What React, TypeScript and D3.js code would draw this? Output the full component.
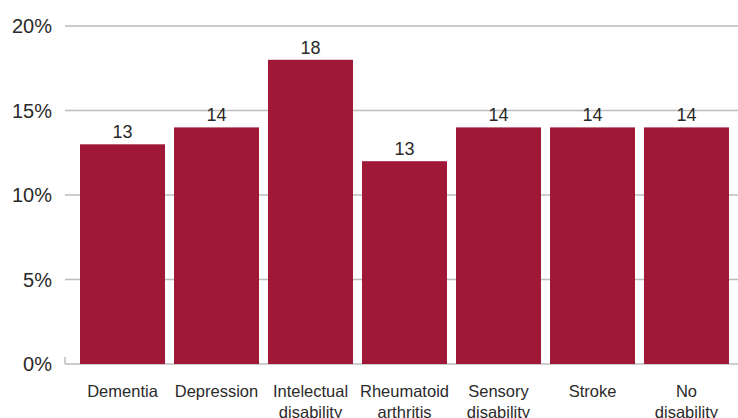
import React from "react";
import * as d3 from "d3";

const categories = [
  ["Dementia"],
  ["Depression"],
  ["Intelectual", "disability"],
  ["Rheumatoid", "arthritis"],
  ["Sensory", "disability"],
  ["Stroke"],
  ["No", "disability"],
];
const values = [13, 14, 18, 12, 14, 14, 14];
const valueLabels = ["13", "14", "18", "13", "14", "14", "14"];
const yTicks = [0, 5, 10, 15, 20];

const width = 738;
const height = 418;
const font = "'Liberation Sans', Arial, sans-serif";
const barColor = "#a01838";

const App = () => {
  const margins = { top: 26, right: 4.5, bottom: 54, left: 75.5 };

  const xScale = d3
    .scaleBand()
    .domain(categories.map((d) => d.join(" ")))
    .range([margins.left, width - margins.right])
    .paddingInner(9 / 94)
    .paddingOuter(0.048);

  const yScale = d3
    .scaleLinear()
    .domain([0, 20])
    .range([height - margins.bottom, margins.top]);

  return (
    <svg
      width={width}
      height={height}
      style={{ position: "absolute", left: 0, top: 0 }}
      fontFamily={font}
    >
      {yTicks.map((t) => (
        <g key={t}>
          <line
            x1={65}
            x2={width}
            y1={yScale(t)}
            y2={yScale(t)}
            stroke="#bdbdbd"
            strokeWidth={1.5}
          />
          <text
            x={52}
            y={yScale(t) + 7}
            textAnchor="end"
            fontSize={20}
            fill="#2a2a2a"
          >
            {t}%
          </text>
        </g>
      ))}
      <line
        x1={65}
        x2={65}
        y1={yScale(0) - 7}
        y2={yScale(0)}
        stroke="#bdbdbd"
        strokeWidth={1.5}
      />
      {categories.map((c, i) => {
        const key = c.join(" ");
        const x = xScale(key) as number;
        const bw = xScale.bandwidth();
        return (
          <g key={key}>
            <rect
              x={x}
              y={yScale(values[i])}
              width={bw}
              height={yScale(0) - yScale(values[i])}
              fill={barColor}
            />
            <text
              x={x + bw / 2}
              y={yScale(values[i]) - 6}
              textAnchor="middle"
              fontSize={18}
              fill="#2a2a2a"
            >
              {valueLabels[i]}
            </text>
            {c.map((line, j) => (
              <text
                key={line}
                x={x + bw / 2}
                y={397 + j * 21}
                textAnchor="middle"
                fontSize={16.5}
                fill="#2a2a2a"
              >
                {line}
              </text>
            ))}
          </g>
        );
      })}
    </svg>
  );
};

export default App;
